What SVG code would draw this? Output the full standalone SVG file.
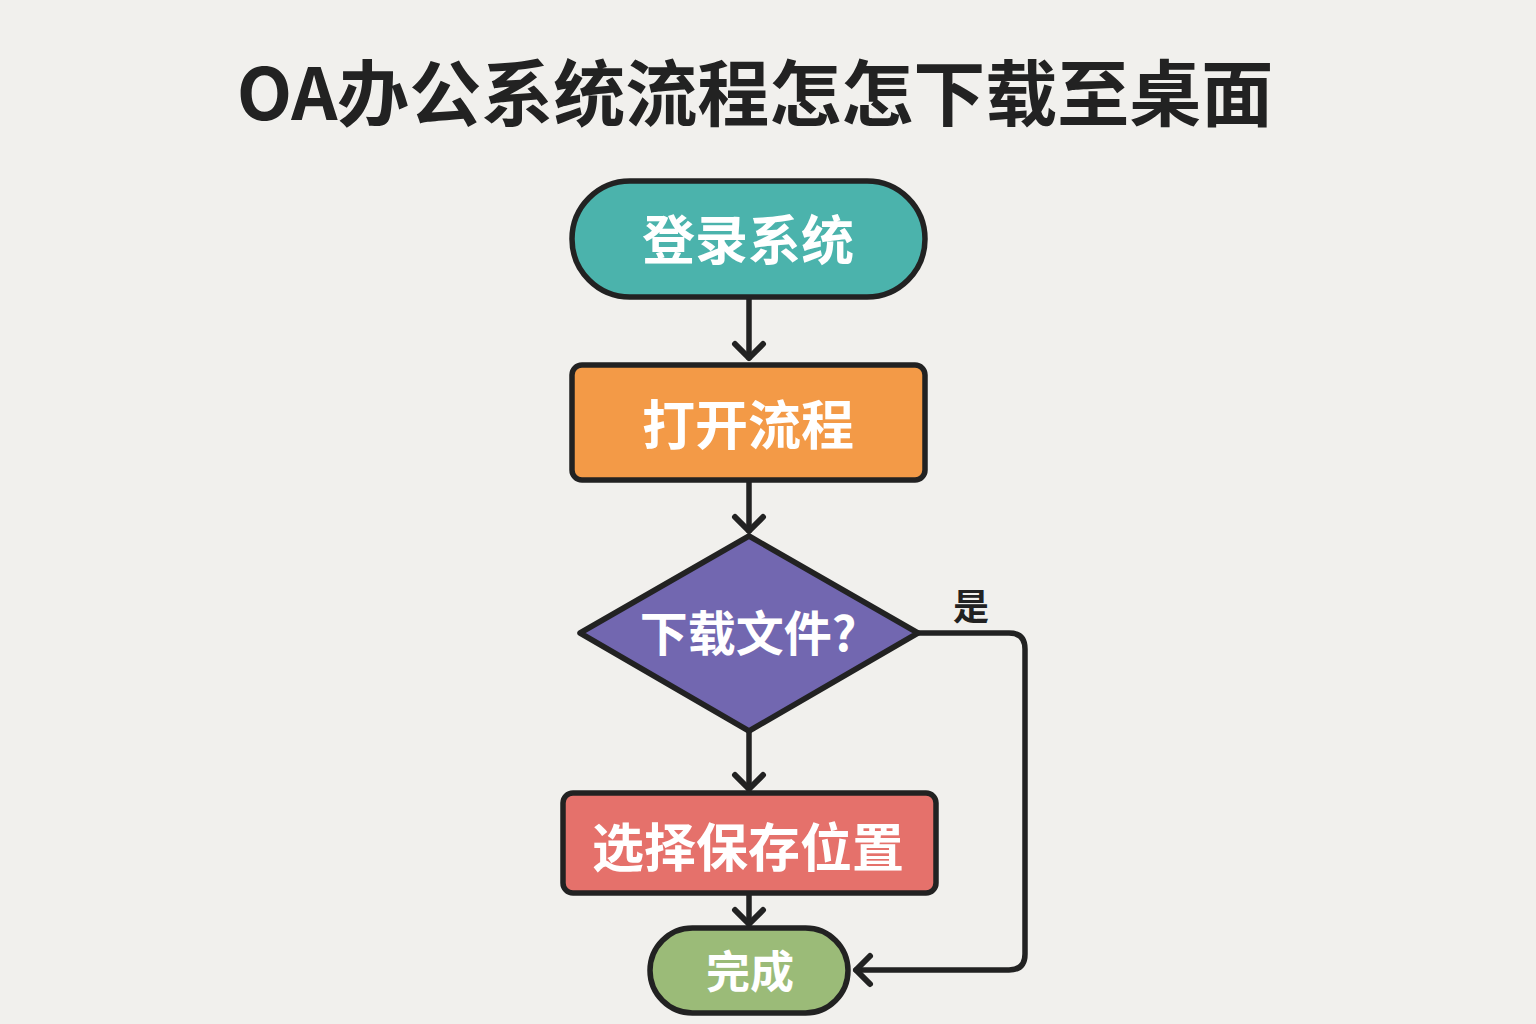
<svg xmlns="http://www.w3.org/2000/svg" width="1536" height="1024" viewBox="0 0 1536 1024">
<defs>
<marker id="chev" markerUnits="userSpaceOnUse" markerWidth="40" markerHeight="40" viewBox="-20 -20 40 40" refX="0" refY="0" orient="auto">
<path d="M -14 -14 L 0 0 L -14 14" fill="none" stroke="#222" stroke-width="6" stroke-linecap="round" stroke-linejoin="round"/>
</marker>
</defs>
<style>
.node{stroke:#222;stroke-width:5.5}
.lbl{font-family:"Noto Sans CJK SC","Noto Sans",sans-serif;font-weight:700;fill:#fff;text-anchor:middle;dominant-baseline:central}
.conn{fill:none;stroke:#222;stroke-width:5.5;stroke-linecap:round;stroke-linejoin:round}
</style>
<rect width="1536" height="1024" fill="#f1f0ed"/>
<text x="755" y="88" font-family="Noto Sans CJK SC, Noto Sans, sans-serif" font-weight="700" font-size="72" fill="#222" text-anchor="middle" dominant-baseline="central">OA办公系统流程怎怎下载至桌面</text>
<g id="connectors">
<path class="conn" d="M 749 297 L 749 358" marker-end="url(#chev)"/>
<path class="conn" d="M 749 480 L 749 531" marker-end="url(#chev)"/>
<path class="conn" d="M 749 731 L 749 789" marker-end="url(#chev)"/>
<path class="conn" d="M 749 893 L 749 924" marker-end="url(#chev)"/>
<path class="conn" d="M 918 633 L 1009 633 Q 1025 633 1025 649 L 1025 954 Q 1025 970 1009 970 L 856 970" marker-end="url(#chev)"/>
<text x="971" y="604" font-family="Noto Sans CJK SC, sans-serif" font-weight="700" font-size="36" fill="#222" text-anchor="middle" dominant-baseline="central">是</text>
</g>
<g id="n1">
<rect class="node" x="572" y="181" width="353" height="116" rx="58" fill="#4bb3ac"/>
<text class="lbl" x="748" y="237" font-size="53">登录系统</text>
</g>
<g id="n2">
<rect class="node" x="572" y="365" width="353" height="115" rx="10" fill="#f39a47"/>
<text class="lbl" x="748" y="422" font-size="53">打开流程</text>
</g>
<g id="n3">
<polygon class="node" points="749,536 918,633 749,731 580,633" fill="#7267b0" stroke-linejoin="round"/>
<text class="lbl" x="748" y="630" font-size="48">下载文件?</text>
</g>
<g id="n4">
<rect class="node" x="563" y="793" width="373" height="100" rx="10" fill="#e5716b"/>
<text class="lbl" x="748" y="844" font-size="52">选择保存位置</text>
</g>
<g id="n5">
<rect class="node" x="650" y="928" width="198" height="85" rx="42.5" fill="#9bbb78"/>
<text class="lbl" x="750" y="969" font-size="44">完成</text>
</g>
</svg>
